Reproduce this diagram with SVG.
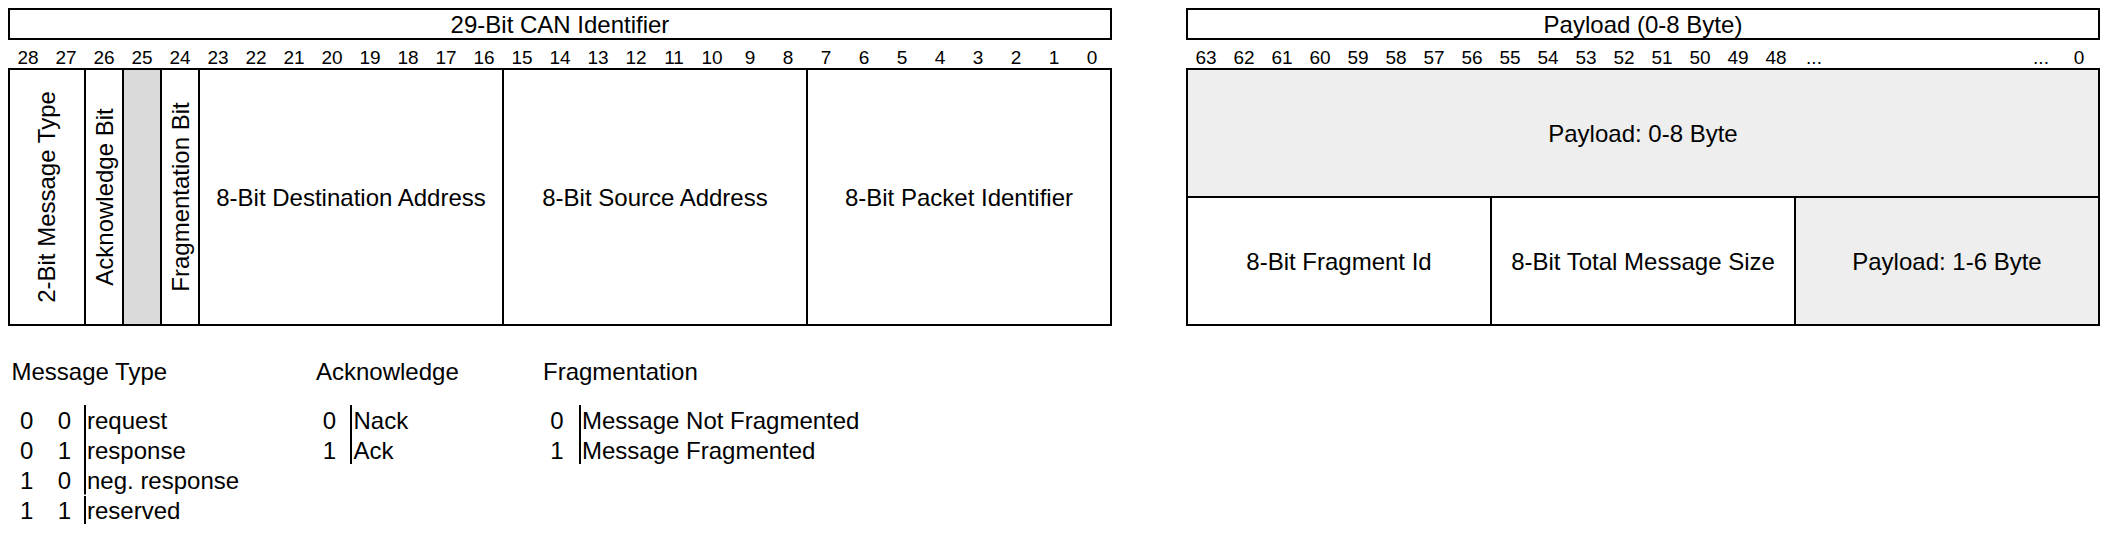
<svg xmlns="http://www.w3.org/2000/svg" width="2110" height="536" viewBox="0 0 2110 536">
<style>
text{font-family:"Liberation Sans",Arial,sans-serif;fill:#000}
.t{font-size:24px}
.c{text-anchor:middle}
.n{font-size:19px;text-anchor:middle}
.box{fill:#fff;stroke:#000;stroke-width:2}
.g1{fill:#dadada;stroke:#000;stroke-width:2}
.g2{fill:#eeeeee;stroke:#000;stroke-width:2}
.ln{stroke:#000;stroke-width:2;fill:none}
</style>
<rect width="2110" height="536" fill="#fff"/>

<g id="can-id-header">
<rect class="box" x="9" y="9" width="1102" height="30"/>
<text class="t c" x="560" y="32.5">29-Bit CAN Identifier</text>
</g>

<g id="can-bit-numbers">
<text class="n" x="28" y="64">28</text>
<text class="n" x="66" y="64">27</text>
<text class="n" x="104" y="64">26</text>
<text class="n" x="142" y="64">25</text>
<text class="n" x="180" y="64">24</text>
<text class="n" x="218" y="64">23</text>
<text class="n" x="256" y="64">22</text>
<text class="n" x="294" y="64">21</text>
<text class="n" x="332" y="64">20</text>
<text class="n" x="370" y="64">19</text>
<text class="n" x="408" y="64">18</text>
<text class="n" x="446" y="64">17</text>
<text class="n" x="484" y="64">16</text>
<text class="n" x="522" y="64">15</text>
<text class="n" x="560" y="64">14</text>
<text class="n" x="598" y="64">13</text>
<text class="n" x="636" y="64">12</text>
<text class="n" x="674" y="64">11</text>
<text class="n" x="712" y="64">10</text>
<text class="n" x="750" y="64">9</text>
<text class="n" x="788" y="64">8</text>
<text class="n" x="826" y="64">7</text>
<text class="n" x="864" y="64">6</text>
<text class="n" x="902" y="64">5</text>
<text class="n" x="940" y="64">4</text>
<text class="n" x="978" y="64">3</text>
<text class="n" x="1016" y="64">2</text>
<text class="n" x="1054" y="64">1</text>
<text class="n" x="1092" y="64">0</text>
</g>

<g id="msg-type-field">
<rect class="box" x="9" y="69" width="76" height="256"/>
<text class="t c" transform="translate(54.5,197) rotate(-90)">2-Bit Message Type</text>
</g>
<g id="ack-field">
<rect class="box" x="85" y="69" width="38" height="256"/>
<text class="t c" transform="translate(112.5,197) rotate(-90)">Acknowledge Bit</text>
</g>
<g id="reserved-field">
<rect class="g1" x="123" y="69" width="38" height="256"/>
</g>
<g id="frag-field">
<rect class="box" x="161" y="69" width="38" height="256"/>
<text class="t c" transform="translate(188.5,197) rotate(-90)">Fragmentation Bit</text>
</g>
<g id="dest-field">
<rect class="box" x="199" y="69" width="304" height="256"/>
<text class="t c" x="351" y="205.6">8-Bit Destination Address</text>
</g>
<g id="src-field">
<rect class="box" x="503" y="69" width="304" height="256"/>
<text class="t c" x="655" y="205.6">8-Bit Source Address</text>
</g>
<g id="pkt-field">
<rect class="box" x="807" y="69" width="304" height="256"/>
<text class="t c" x="959" y="205.6">8-Bit Packet Identifier</text>
</g>

<g id="payload-header">
<rect class="box" x="1187" y="9" width="912" height="30"/>
<text class="t c" x="1643" y="32.5">Payload (0-8 Byte)</text>
</g>

<g id="payload-bit-numbers">
<text class="n" x="1206" y="64">63</text>
<text class="n" x="1244" y="64">62</text>
<text class="n" x="1282" y="64">61</text>
<text class="n" x="1320" y="64">60</text>
<text class="n" x="1358" y="64">59</text>
<text class="n" x="1396" y="64">58</text>
<text class="n" x="1434" y="64">57</text>
<text class="n" x="1472" y="64">56</text>
<text class="n" x="1510" y="64">55</text>
<text class="n" x="1548" y="64">54</text>
<text class="n" x="1586" y="64">53</text>
<text class="n" x="1624" y="64">52</text>
<text class="n" x="1662" y="64">51</text>
<text class="n" x="1700" y="64">50</text>
<text class="n" x="1738" y="64">49</text>
<text class="n" x="1776" y="64">48</text>
<text class="n" x="1814" y="64">...</text>
<text class="n" x="2041" y="64">...</text>
<text class="n" x="2079" y="64">0</text>
</g>

<g id="payload-full">
<rect class="g2" x="1187" y="69" width="912" height="128"/>
<text class="t c" x="1643" y="141.6">Payload: 0-8 Byte</text>
</g>
<g id="fragment-id">
<rect class="box" x="1187" y="197" width="304" height="128"/>
<text class="t c" x="1339" y="269.6">8-Bit Fragment Id</text>
</g>
<g id="total-size">
<rect class="box" x="1491" y="197" width="304" height="128"/>
<text class="t c" x="1643" y="269.6">8-Bit Total Message Size</text>
</g>
<g id="payload-partial">
<rect class="g2" x="1795" y="197" width="304" height="128"/>
<text class="t c" x="1947" y="269.6">Payload: 1-6 Byte</text>
</g>

<g id="legend-message-type">
<text class="t" x="11.5" y="380">Message Type</text>
<line class="ln" x1="85" y1="405" x2="85" y2="494.5"/>
<line class="ln" x1="85" y1="496" x2="85" y2="524"/>
<text class="t c" x="26.7" y="429">0</text><text class="t c" x="64.5" y="429">0</text><text class="t" x="87" y="429">request</text>
<text class="t c" x="26.7" y="459">0</text><text class="t c" x="64.5" y="459">1</text><text class="t" x="87" y="459">response</text>
<text class="t c" x="26.7" y="489">1</text><text class="t c" x="64.5" y="489">0</text><text class="t" x="87" y="489">neg. response</text>
<text class="t c" x="26.7" y="519">1</text><text class="t c" x="64.5" y="519">1</text><text class="t" x="87" y="519">reserved</text>
</g>

<g id="legend-acknowledge">
<text class="t" x="316" y="380">Acknowledge</text>
<line class="ln" x1="351" y1="405" x2="351" y2="464"/>
<text class="t c" x="329.5" y="429">0</text><text class="t" x="353.5" y="429">Nack</text>
<text class="t c" x="329.5" y="459">1</text><text class="t" x="353.5" y="459">Ack</text>
</g>

<g id="legend-fragmentation">
<text class="t" x="543" y="380">Fragmentation</text>
<line class="ln" x1="580" y1="405" x2="580" y2="464"/>
<text class="t c" x="557" y="429">0</text><text class="t" x="582" y="429">Message Not Fragmented</text>
<text class="t c" x="557" y="459">1</text><text class="t" x="582" y="459">Message Fragmented</text>
</g>

<g id="connectors"/>
</svg>
